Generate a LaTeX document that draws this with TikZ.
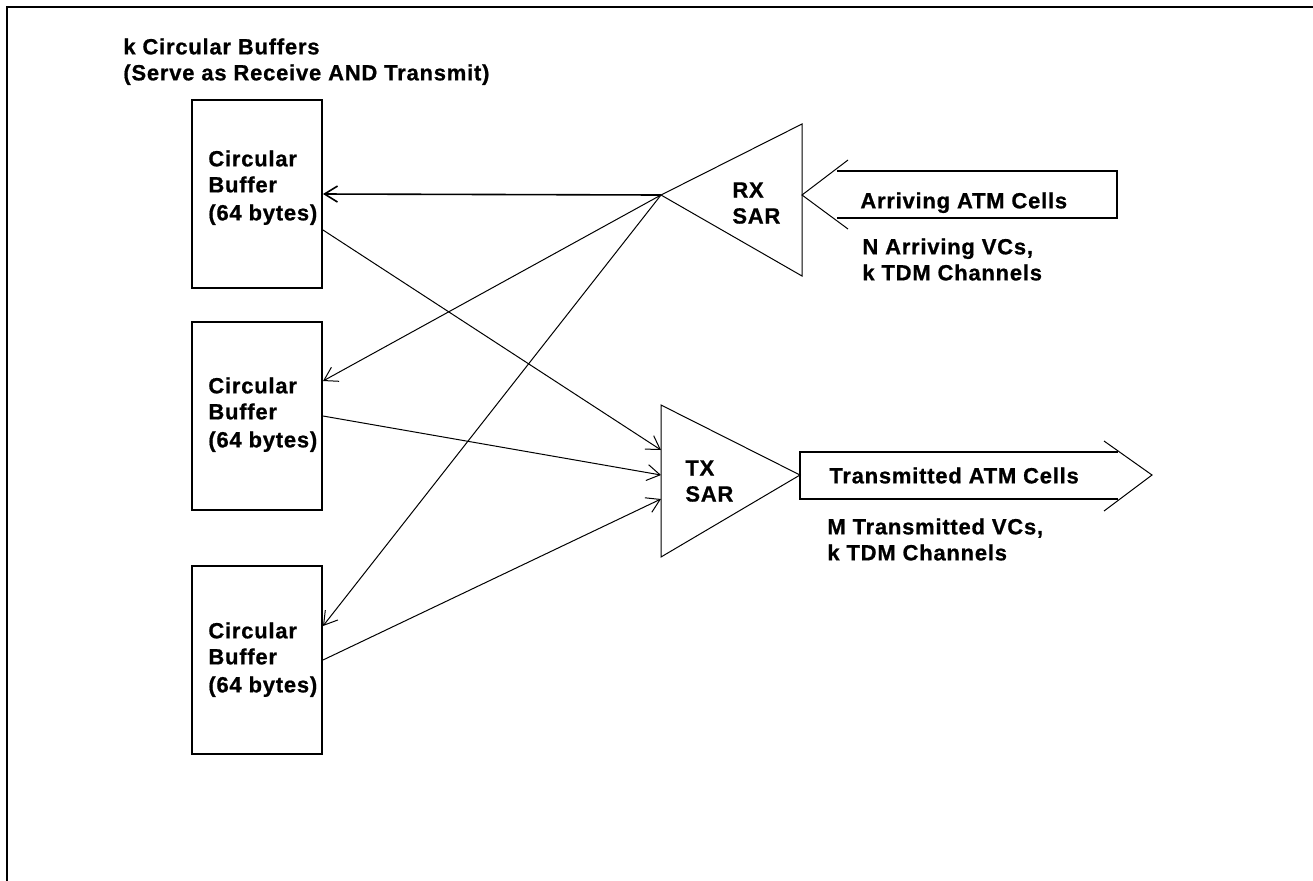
\documentclass[tikz,border=0pt]{standalone}
\usepackage{fontspec}
\setmainfont[LetterSpace=3.5, BoldFeatures={FakeBold=0.8}]{Liberation Sans}
\usetikzlibrary{arrows.meta,calc}

\begin{document}
\begin{tikzpicture}[x=0.5pt, y=-0.5pt, font=\fontsize{11}{13}\selectfont\bfseries]
  \tikzset{
    buffer/.style={draw, line width=1pt, minimum width=65pt, minimum height=94pt, inner sep=0pt},
    txt/.style={anchor=north west, align=left, inner sep=0pt},
    conn/.style={-{Straight Barb[length=6.5pt, width=8pt]}, line width=0.5pt},
    shaft/.style={line width=1pt},
    thin/.style={line width=0.5pt}}
  \useasboundingbox (0,0) rectangle (1313,880);
  % frame, open at right and bottom
  \draw[line width=1.3pt] (7,882) -- (7,7) -- (1315,7);
  \node[txt] (title) at (123,38) {k Circular Buffers\\(Serve as Receive AND Transmit)};
  % buffers
  \foreach \n/\y/\t in {1/194/150,2/416/377,3/660/622}{
    \node[buffer] (buf\n) at (257,\y) {};
    \node[txt] (buftxt\n) at (208,\t) {Circular\\Buffer\\[1pt](64 bytes)};}
  % RX SAR
  \coordinate (rxtip) at (661,195);
  \draw[thin] (rxtip) -- (802,124) -- (802,276) -- cycle;
  \node[txt] (rxtxt) at (732,182) {RX\\SAR};
  % TX SAR
  \coordinate (txtip) at (800,475);
  \draw[thin] (661,405) -- (txtip) -- (661,557) -- cycle;
  \node[txt] (txtxt) at (685,460) {TX\\SAR};
  \foreach \n/\y in {1/450,2/475,3/499}{\coordinate (txin\n) at (661,\y);}
  % arriving cells
  \draw[shaft] (837,171) -- (1117,171) -- (1117,218) -- (837,218);
  \draw[thin] (848,160) -- (802,195) -- (848,229);
  \node[txt] (arrtxt) at (860,192) {Arriving ATM Cells};
  \node[txt] (arrvc) at (862,238) {N Arriving VCs,\\k TDM Channels};
  % transmitted cells
  \draw[shaft] (1118,452) -- (txtip |- 0,452) -- (txtip |- 0,499) -- (1118,499);
  \draw[thin] (1104,441) -- (1152,475) -- (1104,511);
  \node[txt] (trtxt) at (829,467) {Transmitted ATM Cells};
  \node[txt] (trvc) at (827,518) {M Transmitted VCs,\\k TDM Channels};
  % receive side
  \draw[conn, line width=0.8pt] (rxtip) -- (buf1.east);
  \draw[conn] (rxtip) -- ($(buf2.east)+(0,-35)$);
  \draw[conn] (rxtip) -- ($(buf3.east)+(0,-34)$);
  % transmit side
  \draw[conn] ($(buf1.east)+(0,36)$) -- (txin1);
  \draw[conn] (buf2.east) -- (txin2);
  \draw[conn] (buf3.east) -- (txin3);
\end{tikzpicture}
\end{document}
